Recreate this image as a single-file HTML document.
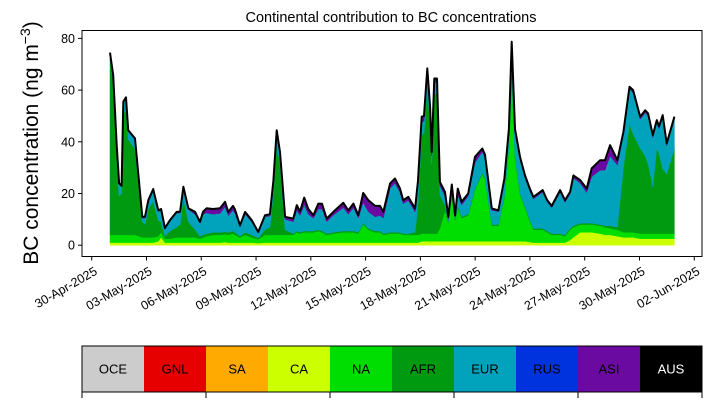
<!DOCTYPE html>
<html><head><meta charset="utf-8"><style>
body{margin:0;background:#fff;}
svg{display:block;font-family:"Liberation Sans",sans-serif;}
</style></head><body>
<svg id="chart" width="711" height="402" viewBox="0 0 711 402">
<text x="391" y="22" font-size="14.5" text-anchor="middle">Continental contribution to BC concentrations</text>
<text transform="translate(38,143) rotate(-90)" font-size="21" text-anchor="middle">BC concentration (ng m<tspan font-size="14" dy="-8">−3</tspan><tspan dy="8">)</tspan></text>
<g id="areas"></g>
<g id="axes"></g>
<g id="legend"></g>
</svg>
<script>
const times=[1.00,1.18,1.37,1.50,1.64,1.73,1.88,2.00,2.37,2.77,2.92,3.10,3.37,3.65,3.80,4.01,4.29,4.65,4.84,5.02,5.29,5.66,5.93,6.10,6.30,6.64,7.03,7.30,7.48,7.74,7.85,8.12,8.40,8.76,9.12,9.49,9.76,9.95,10.13,10.31,10.59,11.04,11.23,11.41,11.64,11.86,12.14,12.41,12.61,12.87,13.23,13.78,14.05,14.33,14.60,14.87,15.15,15.52,15.79,15.97,16.34,16.61,16.88,17.06,17.34,17.71,17.87,18.07,18.20,18.38,18.53,18.62,18.76,18.91,19.07,19.35,19.53,19.72,19.90,20.05,20.26,20.62,20.99,21.39,21.54,21.91,22.27,22.60,22.85,23.00,23.18,23.46,23.73,24.00,24.19,24.70,24.94,25.19,25.65,25.92,26.20,26.38,26.75,27.11,27.38,27.84,28.11,28.39,28.79,29.12,29.45,29.65,30.04,30.31,30.47,30.73,30.95,31.07,31.27,31.49,31.91];
const ca=[1,1,1,1,1,1,1,1,1,1,1,1,1,1.5,3,1,1,1,1,1,1,1,1,1,1,1,1,1.2,1,1,1,1,1,1,0.8,1,1,1,1,1,1,1,1,1,1,1,1,1,1,1,1,1,1,1,1,1,1,1,1,1,1,1,1,1,1,1,1,1.5,1.5,1.5,1.5,1.5,1.5,1.5,1.5,1.5,1.5,1.5,1.5,1.5,1.5,1.5,1.5,1.5,1.5,1.5,1.5,1.5,1.5,1.5,1.5,1.5,1.5,1.2,1,1,1,1,1,1,2,3,5,5,5,4.5,4,4,3.5,3,3,3,2.5,2.5,2.5,2.5,2.5,2.5,2.5,2.5,2.5];
const na=[3,3,3,3,3,3,3,3,3,2,2,2,2,2,2,1.5,1.5,2,2,2,2,2,1.5,2,2.5,3,3,3,3,3.5,3,2,3,2,1.5,3,3,3,3,3,3,3,4,3.5,4,4,4,4.5,4,3,3.5,4,4,4,3.5,7,5,4,4,3,3.5,3.5,3.5,3,3,3,3,3,3,3,3,3,3,3,5,12,7,18,8,13,9,10,20,26,24,6,6,17,36,66,32,18,13,8,5,5,4,3,3,2.5,4,4,3,3,3,3,3,2.5,2.5,2,2,2,2,2,2,2,2,2,2,2,2];
const afr=[68,59,30,15,16,47,48,37,33,6,5,11,14,6,4,1,3,4,5,15,6,3,1,1,1,1,1,1,1,1,1,0.5,1,1,0.5,2,3,16,35,27,2,0.5,0.5,0.5,0.5,0.5,0.5,0.5,0.5,0.5,0.5,0.5,0.5,0.5,0.5,0.5,0.5,0.5,0.5,0.5,0.5,0.5,0.5,0.5,0.5,1,12,38,39,56,43,27,54,54,13,2,0.5,0.5,0.5,0.5,0.5,0.5,0.5,0.5,0.5,0.5,0.5,0.5,0.5,0.5,0.5,0.5,0.5,0.5,0.5,0.5,0.5,0.5,0.5,0.5,0.5,0.5,0.5,0.5,0.5,0.5,0.5,1,1,25,42,38,33,30,27,18,33,31,25,23,33];
const eur=[2,2,4,4.5,2.5,4,4.5,3,3.8,1.5,2.5,3,4,3.5,4.5,2.6,3.7,5.4,4.5,4,4.8,6,5,8,8,7,7.3,9.6,6.4,8,7.3,3.5,7,5,2,5,4.3,4.5,4.5,4,4,4.6,8,6.5,10,6.5,5,8,8.5,4.6,6.6,9,6.5,9,5.5,8,6.5,5.5,6,6,17,19,15.5,11.5,12.8,7.8,7.5,5.2,4.5,6,4.5,3,4.5,4.5,3.5,3.5,1,2.5,1,4.5,4.5,7,10,8,8,5.5,5,6,6,9.7,10,13,11,11.2,11.4,14,11.3,10,16,12.6,13.3,18.5,15.5,11.9,18,21,21.5,27,24,12.8,13.3,16,11.2,16.7,18.5,19.1,10,9.6,19.9,11,11.3];
const asi=[0.5,0.8,0.7,0.5,0.5,0.5,0.7,0.5,0.5,0.5,0.5,0.4,0.7,0.5,0.5,0.5,0.5,0.5,0.5,0.6,0.5,0.9,0.5,1,1.8,2,2,2,1.5,1.7,1.5,0.7,0.9,0.7,0.3,0.6,0.7,0.5,1,1,1,1.2,2,1.5,2.9,2,1.1,2.1,2,1.2,1.3,1.9,1.5,1.6,1.1,3.7,4.4,4.2,3.7,2.4,1.9,1.8,1.5,1.4,1.4,1.4,1.5,2,2,1.9,1.5,1.5,1.5,1.5,1.5,1.6,1,1,0.5,2.4,1.3,1,2.2,1.4,1,0.7,0.5,0.8,1,1,1,1,1,0.9,0.8,0.8,0.7,0.7,0.8,0.8,0.8,1,1.2,1.5,3.2,3.9,3.9,4.2,1.9,1,1,1,1,1,1,1,0.9,0.9,0.9,0.9,0.9];
const yTicks=[0,20,40,60,80];
const xTickDays=[0,3,6,9,12,15,18,21,24,27,30,33];
const xTickLabels=["30-Apr-2025","03-May-2025","06-May-2025","09-May-2025","12-May-2025","15-May-2025","18-May-2025","21-May-2025","24-May-2025","27-May-2025","30-May-2025","02-Jun-2025"];
const legendNames=["OCE","GNL","SA","CA","NA","AFR","EUR","RUS","ASI","AUS"];
const legendColors=["#cccccc","#e60000","#ffaa00","#ccff00","#00dd00","#009a10","#00a3bb","#0033dd","#6a0aa0","#000000"];

const NS="http://www.w3.org/2000/svg";
const X=t=>91.7+18.26*t;
const Y=v=>245.2-2.585*v;
function mk(tag,attrs,parent){const e=document.createElementNS(NS,tag);for(const k in attrs)e.setAttribute(k,attrs[k]);parent.appendChild(e);return e;}

const layers=[["ca",ca,"#ccff00"],["na",na,"#00dd00"],["afr",afr,"#009a10"],["eur",eur,"#00a3bb"],["asi",asi,"#6a0aa0"]];
const areas=document.getElementById("areas");
let base=times.map(()=>0);
layers.forEach(([nm,vals,col])=>{
  const top=base.map((b,i)=>b+vals[i]);
  let d="M"+times.map((t,i)=>X(t).toFixed(1)+","+Y(top[i]).toFixed(1)).join("L");
  for(let i=times.length-1;i>=0;i--)d+="L"+X(times[i]).toFixed(1)+","+Y(base[i]).toFixed(1);
  const p=mk("path",{d:d+"Z",fill:col,stroke:col,"stroke-width":"0.5"},areas);
  
  
  base=top;
});
const tl=mk("path",{d:"M"+times.map((t,i)=>X(t).toFixed(1)+","+Y(base[i]).toFixed(1)).join("L"),fill:"none",stroke:"#000","stroke-width":"2","stroke-linejoin":"round"},areas);



const axes=document.getElementById("axes");
const fr=mk("rect",{x:82,y:30.5,width:620,height:226,fill:"none",stroke:"#000","stroke-width":"1"},axes);


yTicks.forEach(v=>{
  mk("line",{x1:78,x2:82,y1:Y(v),y2:Y(v),stroke:"#000"},axes);
  const t=mk("text",{x:75,y:Y(v)+4.5,"font-size":"12.5","text-anchor":"end"},axes);
  t.textContent=v;
  
  
});
xTickDays.forEach((d,i)=>{
  mk("line",{x1:X(d),x2:X(d),y1:256.5,y2:260.5,stroke:"#000"},axes);
  const t=mk("text",{transform:`translate(${X(d)+2},${266}) rotate(-30)`,"font-size":"12.5","text-anchor":"end","dominant-baseline":"hanging"},axes);
  t.textContent=xTickLabels[i];
  
  
});

const lg=document.getElementById("legend");
const w=62;
legendNames.forEach((n,i)=>{
  const r=mk("rect",{x:82+i*w,y:346,width:w,height:46,fill:legendColors[i]},lg);
  
  
  const t=mk("text",{x:82+i*w+w/2,y:373.5,"font-size":"13","text-anchor":"middle",fill:n==="AUS"?"#fff":"#000"},lg);
  t.textContent=n;
  
  
});
mk("rect",{x:82,y:346,width:620,height:46,fill:"none",stroke:"#000","stroke-width":"1"},lg);
for(let i=0;i<=5;i++)mk("line",{x1:82+i*124,x2:82+i*124,y1:392,y2:398,stroke:"#000"},lg);
</script>
</body></html>
